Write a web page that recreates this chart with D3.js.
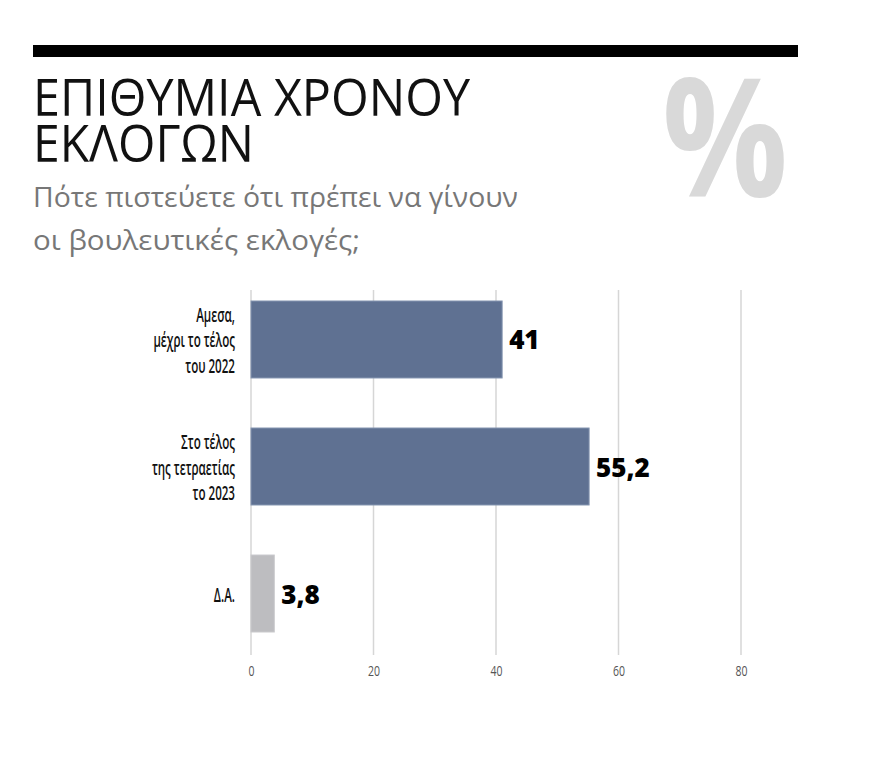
<!DOCTYPE html>
<html>
<head>
<meta charset="utf-8">
<script src="https://cdn.jsdelivr.net/npm/d3@7"></script>
<style>
  html, body { margin: 0; padding: 0; background: #fff; }
  #wrap { position: relative; width: 880px; height: 763px; }
  svg { display: block; }
  #title { position: absolute; left: 33px; top: 73px; font-family: 'Open Sans', 'DejaVu Sans', sans-serif;
           font-size: 52px; line-height: 46px; color: #111; white-space: nowrap; }
  #title div { height: 46px; }
  #title span { display: inline-block; transform-origin: 0 50%; }
</style>
</head>
<body>
<div id="wrap">
  <svg id="chart" width="880" height="763"></svg>
  <div id="title"></div>
</div>
<script>
// survey answers, one entry per bar (label lines kept separate)
const categories = ["immediate", "term_end", "dk"];
const categoryLines = [
  ["Αμεσα,", "μέχρι το τέλος", "του 2022"],
  ["Στο τέλος", "της τετραετίας", "το 2023"],
  ["Δ.Α."]
];
const values = [41, 55.2, 3.8];
const valueLabels = ["41", "55,2", "3,8"];
const tickValues = [0, 20, 40, 60, 80];
const titleLines = ["ΕΠΙΘΥΜΙΑ ΧΡΟΝΟΥ", "ΕΚΛΟΓΩΝ"];
const subtitleLines = ["Πότε πιστεύετε ότι πρέπει να γίνουν", "οι βουλευτικές εκλογές;"];

(function () {
  "use strict";

  const svg = d3.select("#chart");
  const font = "'Open Sans', 'DejaVu Sans', sans-serif";

  // header rule
  svg.append("rect")
    .attr("x", 33).attr("y", 45)
    .attr("width", 765).attr("height", 12)
    .attr("fill", "#000");

  // big faded percent sign
  svg.append("text")
    .attr("x", 662).attr("y", 197)
    .attr("font-family", font)
    .attr("font-weight", 700)
    .attr("font-size", 166)
    .attr("fill", "#d9d9d9")
    .attr("textLength", 126)
    .attr("lengthAdjust", "spacingAndGlyphs")
    .text("%");

  // title in html so the tight leading keeps separate line boxes; squeeze each line to its width
  const titleWidths = [437, 221];
  d3.select("#title").selectAll("div")
    .data(titleLines)
    .join("div")
    .append("span")
    .text((d) => d)
    .each(function (d, i) {
      const w = this.getBoundingClientRect().width;
      d3.select(this).style("transform", `scaleX(${titleWidths[i] / w})`);
    });

  const subWidths = [485, 327];
  svg.selectAll("text.sub")
    .data(subtitleLines)
    .join("text")
    .attr("class", "sub")
    .attr("x", 33)
    .attr("y", (d, i) => 207 + i * 43)
    .attr("font-family", font)
    .attr("font-size", 27)
    .attr("fill", "#777")
    .attr("textLength", (d, i) => subWidths[i])
    .attr("lengthAdjust", "spacingAndGlyphs")
    .text((d) => d);

  // chart
  const x = d3.scaleLinear().domain([0, 80]).range([251, 741]);
  const y = d3.scaleBand().domain(categories).range([301, 632]).paddingInner(0.394);

  svg.append("g").selectAll("line")
    .data(tickValues)
    .join("line")
    .attr("x1", (d) => x(d)).attr("x2", (d) => x(d))
    .attr("y1", 290).attr("y2", 655)
    .attr("stroke", "#d6d6d6")
    .attr("stroke-width", 1.5);

  const axis = svg.append("g")
    .attr("transform", "translate(0,663)")
    .call(d3.axisBottom(x).tickValues(tickValues).tickSize(0).tickPadding(3).tickFormat(d3.format("d")));
  axis.select(".domain").remove();
  axis.selectAll(".tick text")
    .attr("font-family", font)
    .attr("font-size", 14)
    .attr("fill", "#555")
    .each(function () {
      const node = d3.select(this);
      node.attr("textLength", 6 * node.text().length).attr("lengthAdjust", "spacingAndGlyphs");
    });

  svg.append("g").selectAll("rect")
    .data(categories)
    .join("rect")
    .attr("x", x(0))
    .attr("y", (d) => y(d))
    .attr("width", (d, i) => x(values[i]) - x(0))
    .attr("height", y.bandwidth())
    .attr("fill", (d) => (d === "dk" ? "#bdbdc0" : "#5f7192"))
    .attr("stroke", (d) => (d === "dk" ? "#c9c9cc" : "#8394b0"))
    .attr("stroke-width", 1);

  // value labels
  svg.append("g").selectAll("text")
    .data(categories)
    .join("text")
    .attr("x", (d, i) => x(values[i]) + 7)
    .attr("y", (d) => y(d) + y.bandwidth() / 2 + 10)
    .attr("font-family", font)
    .attr("font-weight", 800)
    .attr("font-size", 26)
    .attr("fill", "#000")
    .text((d, i) => valueLabels[i]);

  // category labels, condensed horizontally
  const labels = svg.append("g").selectAll("g")
    .data(categories)
    .join("g")
    .attr("transform", (d) => `translate(235,${y(d) + y.bandwidth() / 2}) scale(0.58,1)`);
  labels.selectAll("text")
    .data((d, i) => categoryLines[i].map((line, j, arr) => ({ line, j, n: arr.length })))
    .join("text")
    .attr("x", 0)
    .attr("y", (d) => (d.j - (d.n - 1) / 2) * 25.5 + 8)
    .attr("text-anchor", "end")
    .attr("font-family", font)
    .attr("font-weight", 600)
    .attr("font-size", 20)
    .attr("fill", "#111")
    .text((d) => d.line);
})();
</script>
</body>
</html>
